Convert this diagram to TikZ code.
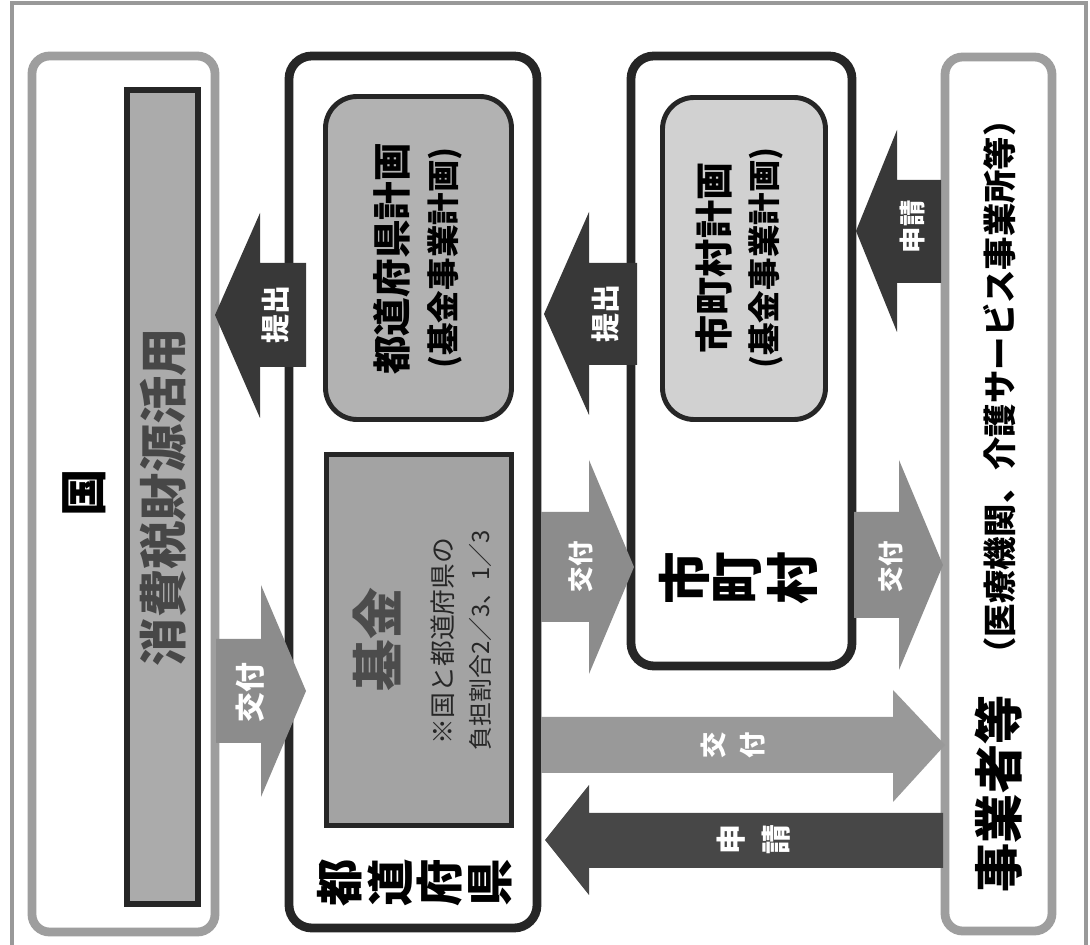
\documentclass[tikz,border=0pt]{standalone}
\usepackage{fontspec}
\usetikzlibrary{fit}
\newfontfamily\jp{Noto Sans CJK JP}
\newcommand{\fsz}[1]{\fontsize{#1}{#1}\selectfont}
\begin{document}
\begin{tikzpicture}[x=0.02cm,y=-0.02cm,
  t/.style={inner sep=0pt, rotate=90, font=\jp\bfseries\fsz{#1}},
  tl/.style={inner sep=0pt, rotate=90, font=\jp\fsz{#1}},
  w/.style={text=white},
  outerbox/.style={draw=black!85, line width=5pt, fill=white, rounded corners=13pt, inner sep=0pt},
  graybox/.style={draw=black!38, line width=5pt, fill=white, rounded corners=10pt, inner sep=0pt},
  planbox/.style={draw=black!85, line width=2.8pt, rounded corners=18pt, inner sep=0pt},
  sqbox/.style={draw=black!85, inner sep=0pt},
  darkarrow/.style={fill=black!78},
  midarrow/.style={fill=black!45},
  lightarrow/.style={fill=black!40},
]
\useasboundingbox (0,0) rectangle (1090,945);
\fill[white] (0,0) rectangle (1090,945);
\draw[black!40, line width=2pt] (12,950) -- (12,3) -- (1086,3) -- (1086,950);

% boxes
\node[fit={(32,56)(215,932)}, graybox] (kuni) {};
\node[fit={(127,90)(198,904)}, sqbox, line width=3.5pt, fill=black!33] (zaigen) {};
\node[fit={(289,56)(537,928)}, outerbox] (pref) {};
\node[fit={(325.5,96.5)(511.5,419.5)}, planbox, fill=black!30] (prefplan) {};
\node[fit={(326.5,454.5)(511.5,825.5)}, sqbox, line width=2.8pt, fill=black!36] (kikin) {};
\node[fit={(631,56)(852,666)}, outerbox] (muni) {};
\node[fit={(662.5,97.5)(825.5,419.5)}, planbox, fill=black!18] (muniplan) {};
\node[fit={(945,57)(1052,931)}, graybox] (jigyo) {};

% arrows
\fill[darkarrow] (306,263) -- (260,263) -- (260,213) -- (215,315) -- (260,418) -- (260,367) -- (306,367) -- cycle;
\fill[midarrow] (216,639) -- (261,639) -- (261,585) -- (306,691) -- (261,797) -- (261,743) -- (216,743) -- cycle;
\fill[darkarrow] (637,263) -- (589,263) -- (589,212) -- (544,314) -- (589,415) -- (589,365) -- (637,365) -- cycle;
\fill[midarrow] (541,512) -- (589,512) -- (589,460) -- (634,567) -- (589,674) -- (589,622) -- (541,622) -- cycle;
\fill[darkarrow] (941,180) -- (897,180) -- (897,130) -- (856,231) -- (897,332) -- (897,283) -- (941,283) -- cycle;
\fill[midarrow] (854,512) -- (899,512) -- (899,460) -- (943,565) -- (899,670) -- (899,618) -- (854,618) -- cycle;
\fill[lightarrow] (541,717) -- (893,717) -- (893,690) -- (945,745) -- (893,802) -- (893,773) -- (541,773) -- cycle;
\fill[fill=black!72] (943,813) -- (589,813) -- (589,785) -- (545,840) -- (589,895) -- (589,868) -- (943,868) -- cycle;

% texts
\node[t=27] (kunilbl) at (84,493) {国};
\node[t=27.5, text=black!72] (zaigenlbl) at (163,497) {消費税財源活用};
\node[t=22] (prefplan1) at (392,259) {都道府県計画};
\node[t=18.5] (prefplan2) at (445,258) {(基金事業計画)};
\node[t=29.5, text=black!70] (kikinlbl) at (377,640) {基金};
\node[tl=14.7, text=black!85] (kikin1) at (443,641) {※国と都道府県の};
\node[tl=13.6, text=black!85] (kikin2) at (480,640) {負担割合2／3、1／3};
\foreach \c/\x [count=\i] in {都/340,道/390,府/440,県/490}
  \node[t=27] (preflbl\i) at (\x,883) {\c};
\node[t=21.7] (muniplan1) at (714,258) {市町村計画};
\node[t=18.5] (muniplan2) at (766,258) {(基金事業計画)};
\foreach \c/\x [count=\i] in {市/684,町/738,村/792}
  \node[t=30] (munilbl\i) at (\x,578) {\c};
\node[t=28] (jigyo1) at (999,794) {事業者等};
\node[t=19] (jigyo2) at (1000,387) {（医療機関、介護サービス事業所等）};

% arrow labels
\node[t=16.5, w] (a1) at (275,315) {提出};
\node[t=17, w] (a2) at (250,693) {交付};
\node[t=16.5, w] (a3) at (605,314) {提出};
\node[t=14.5, w] (a4) at (581,567) {交付};
\node[t=15, w] (a5) at (912,227) {申請};
\node[t=14.5, w] (a6) at (891,567) {交付};
\node[t=15, w] (a7a) at (713,745) {交};
\node[t=15, w] (a7b) at (753,745) {付};
\node[t=17, w] (a8a) at (731,840) {申};
\node[t=17, w] (a8b) at (776,840) {請};
\end{tikzpicture}
\end{document}
